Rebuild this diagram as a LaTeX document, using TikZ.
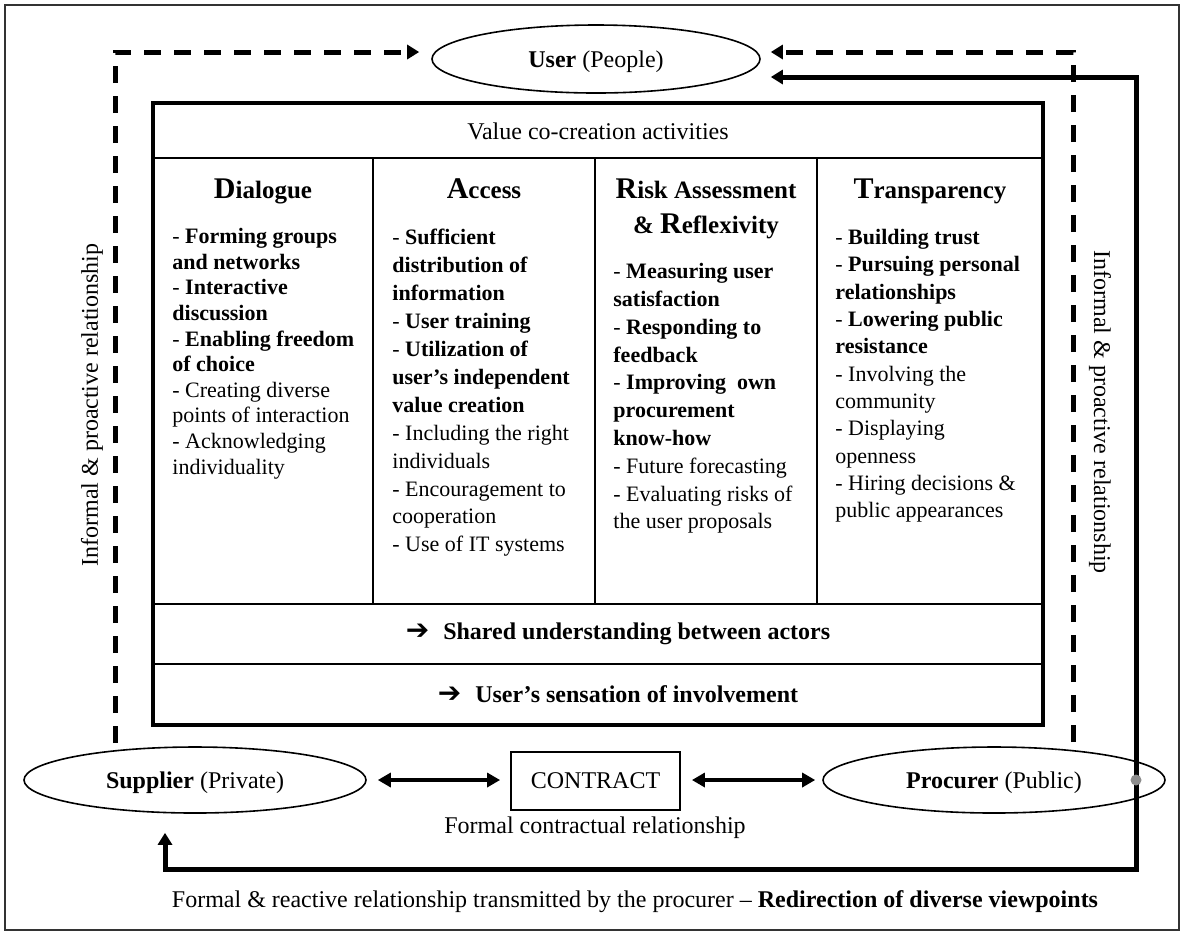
\documentclass[tikz,border=0pt]{standalone}
\usepackage{fontspec}
\setmainfont{Liberation Serif}
\newfontfamily\arrowfont{DejaVu Sans}
\usetikzlibrary{calc,shapes.geometric,arrows.meta}

\newcommand{\bigfirst}[1]{{\fontsize{15}{15}\selectfont #1}}

\begin{document}
\begin{tikzpicture}[x=0.5pt,y=-0.5pt,
  oval/.style={draw,ellipse,line width=0.8pt,inner sep=0pt,text depth=0pt,minimum width=171pt,minimum height=33pt,font=\fontsize{12}{14}\selectfont},
  txt/.style={inner sep=0pt,font=\fontsize{12}{14}\selectfont},
  head/.style={inner sep=0pt,anchor=base,font=\bfseries\fontsize{12.5}{15}\selectfont},
  col/.style={inner sep=0pt,anchor=north west,align=left},
  dashline/.style={line width=2.5pt,dash pattern=on 8.5pt off 6.5pt,-{Triangle[length=6pt,width=7pt]}},
  thickline/.style={line width=2.5pt,-{Triangle[length=6pt,width=7pt]}},
  both/.style={line width=2pt,{Triangle[length=6.5pt,width=7pt]}-{Triangle[length=6.5pt,width=7pt]}}]
  \useasboundingbox (0,0) rectangle (1182,934);
  \draw[line width=0.8pt,black!80] (5,5) rectangle (1179,930);

  \coordinate (A) at (153,103);
  \coordinate (B) at (1043,725);
  \coordinate (E) at (115,743);
  \coordinate (G) at (1073,742);
  \coordinate (X) at (1136,780);

  \draw[line width=2pt] (A) rectangle (B);
  \draw[line width=0.7pt] (153,158) -- (1043,158);
  \draw[line width=0.8pt] (153,604) -- (1043,604);
  \draw[line width=1pt] (153,664) -- (1043,664);
  \foreach \x in {373,595,817}
    \draw[line width=0.7pt] (\x,158) -- (\x,604);

  \node[txt] (V) at (598,131) {Value co-creation activities};

  \node[head] (H1) at (263,198) {\bigfirst{D}ialogue};
  \node[head] (H2) at (484,198) {\bigfirst{A}ccess};
  \node[head] (H3) at (706,198) {\bigfirst{R}isk Assessment};
  \node[head] (H3b) at (706,233) {\& \bigfirst{R}eflexivity};
  \node[head] (H4) at (930,198) {\bigfirst{T}ransparency};

  \node[col,font=\fontsize{11}{12.8}\selectfont] (D) at (172,228) {%
    - \textbf{Forming groups}\\ \textbf{and networks}\\
    - \textbf{Interactive}\\ \textbf{discussion}\\
    - \textbf{Enabling freedom}\\ \textbf{of choice}\\
    - Creating diverse\\ points of interaction\\
    - Acknowledging\\ individuality};
  \node[col,font=\fontsize{11}{13.95}\selectfont] (Ac) at (392,229) {%
    - \textbf{Sufficient}\\ \textbf{distribution of}\\ \textbf{information}\\
    - \textbf{User training}\\
    - \textbf{Utilization of}\\ \textbf{user’s independent}\\ \textbf{value creation}\\
    - Including the right\\ individuals\\
    - Encouragement to\\ cooperation\\
    - Use of IT systems};
  \node[col,font=\fontsize{11}{13.9}\selectfont] (Ri) at (613,263) {%
    - \textbf{Measuring user}\\ \textbf{satisfaction}\\
    - \textbf{Responding to}\\ \textbf{feedback}\\
    - \textbf{Improving\ \ own}\\ \textbf{procurement}\\ \textbf{know-how}\\
    - Future forecasting\\
    - Evaluating risks of\\ the user proposals};
  \node[col,font=\fontsize{11}{13.65}\selectfont] (Tr) at (835,229) {%
    - \textbf{Building trust}\\
    - \textbf{Pursuing personal}\\ \textbf{relationships}\\
    - \textbf{Lowering public}\\ \textbf{resistance}\\
    - Involving the\\ community\\
    - Displaying\\ openness\\
    - Hiring decisions \&\\ public appearances};

  \node[txt,font=\bfseries\fontsize{12}{14}\selectfont] (O1) at (618,634) {{\arrowfont\fontsize{14}{14}\selectfont ➔}\hspace{7pt}Shared understanding between actors};
  \node[txt,font=\bfseries\fontsize{12}{14}\selectfont] (O2) at (618,694) {{\arrowfont\fontsize{14}{14}\selectfont ➔}\hspace{7pt}User’s sensation of involvement};

  \node[oval,minimum width=164pt,minimum height=34pt] (U) at (596,59) {\textbf{User} (People)};
  \node[oval] (S) at (195,780) {\textbf{Supplier} (Private)};
  \node[oval] (P) at (994,780) {\textbf{Procurer} (Public)};
  \node[txt,draw,line width=0.9pt,minimum width=84.5pt,minimum height=29pt] (C) at (595.5,781) {CONTRACT};
  \node[txt] (F) at (595,828) {Formal contractual relationship};
  \node[txt] (R) at (635,902) {Formal \& reactive relationship transmitted by the procurer – \textbf{Redirection of diverse viewpoints}};
  \node[txt,rotate=90] (L1) at (92,405) {Informal \& proactive relationship};
  \node[txt,rotate=-90] (L2) at (1100,412) {Informal \& proactive relationship};

  \draw[dashline] (E) |- ($(U.west)+(-12,-7)$);
  \draw[dashline] (G) |- ($(U.east)+(10,-7)$);
  \draw[thickline] (X) |- ($(U.east)+(10,18)$);
  \draw[thickline] (X) -- ++(0,89) -| ($(S.south)+(-30,19)$);
  \draw[both,shorten <=5.5pt,shorten >=5pt] (S.east) -- (S.east -| C.west);
  \draw[both,shorten <=5.5pt,shorten >=3.5pt] (C.east |- P.west) -- (P.west);
  \node[circle,fill=black!45,inner sep=0pt,minimum size=5.5pt] (Xd) at (X) {};
\end{tikzpicture}
\end{document}
